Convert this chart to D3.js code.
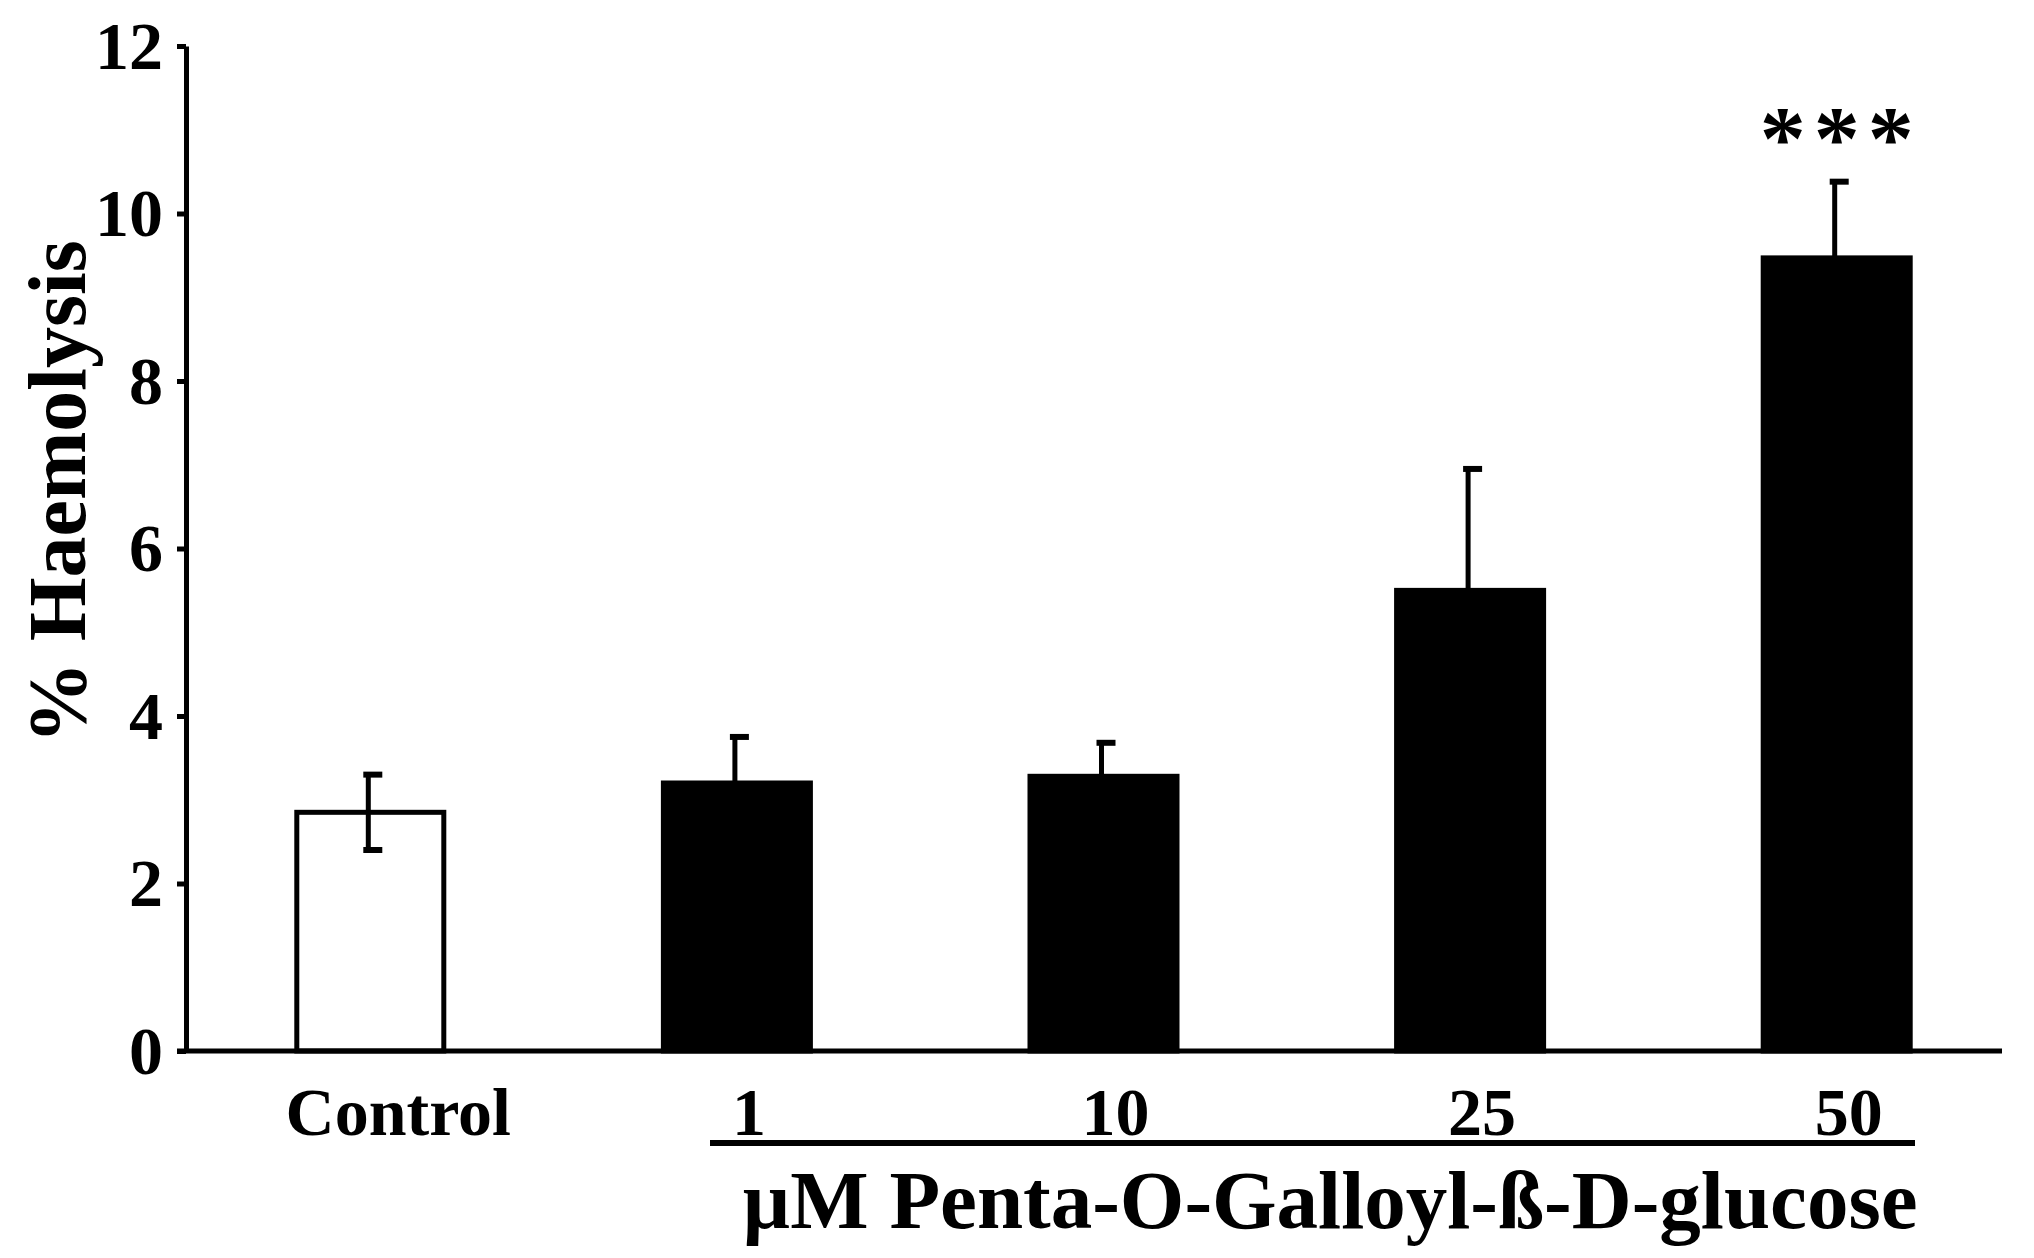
<!DOCTYPE html>
<html>
<head>
<meta charset="utf-8">
<script src="https://cdn.jsdelivr.net/npm/d3@7"></script>
<style>
  body { margin: 0; background: #fff; }
  svg text { font-family: 'Liberation Serif', 'Times New Roman', serif; font-weight: bold; fill: #000; }
</style>
</head>
<body>
<div id="graph"></div>
<script>
var w = 2034;
var h = 1258;

var categories = ['Control', '1', '10', '25', '50'];
var values = [2.85, 3.2, 3.28, 5.5, 9.47];
var errors = [0.45, 0.55, 0.4, 1.45, 0.91];
var yTicks = [0, 2, 4, 6, 8, 10, 12];
var signif = ['', '', '', '', '***'];

var vis = d3.select('#graph')
  .append('svg')
  .attr('width', w)
  .attr('height', h);

var x = d3.scaleBand()
  .domain(categories)
  .range([187, 2020])
  .paddingInner(0.599)
  .paddingOuter(0.2995);

var y = d3.scaleLinear()
  .domain([0, 12])
  .range([1051, 46]);

// bars: control is open, treatments are filled
vis.selectAll('rect.bar')
  .data(categories)
  .enter()
  .append('rect')
  .attr('class', 'bar')
  .attr('x', function (d) { return x(d); })
  .attr('y', function (d, i) { return y(values[i]); })
  .attr('width', x.bandwidth())
  .attr('height', function (d, i) { return y(0) - y(values[i]); })
  .style('fill', function (d, i) { return i === 0 ? '#fff' : '#000'; })
  .style('stroke', '#000')
  .style('stroke-width', 5);

// error bars (control shows both sides)
var err = vis.selectAll('g.err')
  .data(categories)
  .enter()
  .append('g')
  .attr('class', 'err')
  .attr('transform', function (d) {
    return 'translate(' + (x(d) + x.bandwidth() / 2 - 2) + ',0)';
  });

err.append('line')
  .attr('x1', 0)
  .attr('x2', 0)
  .attr('y1', function (d, i) { return y(i === 0 ? values[i] - errors[i] : values[i]); })
  .attr('y2', function (d, i) { return y(values[i] + errors[i]); })
  .style('stroke', '#000')
  .style('stroke-width', 5);

err.append('line')
  .attr('x1', -5)
  .attr('x2', 14)
  .attr('y1', function (d, i) { return y(values[i] + errors[i]); })
  .attr('y2', function (d, i) { return y(values[i] + errors[i]); })
  .style('stroke', '#000')
  .style('stroke-width', 6);

err.filter(function (d, i) { return i === 0; })
  .append('line')
  .attr('x1', -5)
  .attr('x2', 14)
  .attr('y1', y(values[0] - errors[0]))
  .attr('y2', y(values[0] - errors[0]))
  .style('stroke', '#000')
  .style('stroke-width', 6);

// significance stars
vis.selectAll('text.sig')
  .data(categories)
  .enter()
  .append('text')
  .attr('class', 'sig')
  .attr('x', function (d) { return x(d) + x.bandwidth() / 2 + 4; })
  .attr('y', 169)
  .attr('text-anchor', 'middle')
  .style('font-size', '92px')
  .style('letter-spacing', '8px')
  .text(function (d, i) { return signif[i]; });

// y axis
var yAxis = d3.axisLeft(y)
  .tickValues(yTicks)
  .tickSize(9)
  .tickSizeOuter(0)
  .tickPadding(14);

var gy = vis.append('g')
  .attr('transform', 'translate(186,0)')
  .call(yAxis);

gy.select('.domain').style('stroke-width', 5);
gy.selectAll('.tick line').style('stroke-width', 5);
gy.selectAll('.tick text')
  .attr('dy', '0.33em')
  .style('font-size', '68px')
  .style('font-family', null);

// baseline
vis.append('line')
  .attr('x1', 177)
  .attr('x2', 2002)
  .attr('y1', y(0))
  .attr('y2', y(0))
  .style('stroke', '#000')
  .style('stroke-width', 5);

// category labels
vis.selectAll('text.cat')
  .data(categories)
  .enter()
  .append('text')
  .attr('class', 'cat')
  .attr('x', function (d, i) { return x(d) + x.bandwidth() / 2 + (i === 0 ? 28 : 12); })
  .attr('y', 1135)
  .attr('text-anchor', 'middle')
  .style('font-size', '68px')
  .text(function (d) { return d; });

// bracket under the dose labels
vis.append('line')
  .attr('x1', 710)
  .attr('x2', 1915)
  .attr('y1', 1143)
  .attr('y2', 1143)
  .style('stroke', '#000')
  .style('stroke-width', 6);

vis.append('text')
  .attr('x', 1330)
  .attr('y', 1228)
  .attr('text-anchor', 'middle')
  .style('font-size', '83px')
  .text('µM Penta-O-Galloyl-ß-D-glucose');

vis.append('text')
  .attr('transform', 'translate(85,492) rotate(-90)')
  .attr('text-anchor', 'middle')
  .style('font-size', '82px')
  .text('% Haemolysis');
</script>
</body>
</html>
